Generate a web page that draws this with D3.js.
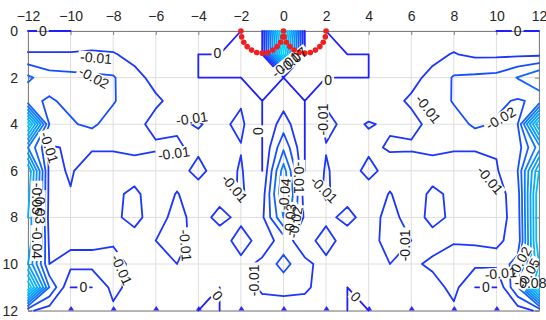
<!DOCTYPE html>
<html><head><meta charset="utf-8">
<script src="https://cdn.jsdelivr.net/npm/d3@7"></script>
<style>body{margin:0;background:#fff}svg{display:block}</style>
</head><body>
<script>
// ---------- data ----------
const xTicks = [-12,-10,-8,-6,-4,-2,0,2,4,6,8,10,12];
const yTicks = [0,2,4,6,8,10,12];
const xNodes = [-12,-11,-10,-9,-8,-7,-6,-5,-4,-3,-2,-1,0,1,2,3,4,5,6,7,8,9,10,11,12];
const yNodes = [0,1,2,3,4,5,6,7,8,9,10,11,12];
const levels = [0,-0.01,-0.02,-0.03,-0.04,-0.05,-0.06,-0.07,-0.08,-0.09,-0.10,-0.11];
// field values in thousandths (row = y node, column = x node)
const zMilli = [
 [0,0,0,-5,-5,-5,-5,-5,-5,-5,0,0,-110,0,0,-5,-5,-5,-5,-5,-5,-5,0,0,0],
 [-11,-11,-11,-11,-10.5,-8,-6,-5,0,0,0,0,-100,0,0,0,0,-5,-6,-8,-10.5,-8,-8,-8,-8],
 [-32,-24,-23,-22,-21,-12,-8,-5,0,0,0,0,0,0,0,0,0,-5,-8,-12,-21,-22,-23,-30.5,-40],
 [-22,-19,-22,-23,-21,-13,-11,-8,-6,-7,-9,0,-6,0,-9,-7,-6,-8,-11,-13,-21,-23,-22,-19,-22],
 [-95,-20,-19,-22,-15,-12,-8,-9,-10.5,-8,-12,0,-15,0,-12,-8,-10.5,-9,-8,-12,-15,-22,-19,-20,-90],
 [-40,-9,-11,-11,-11,-12,-11,-11,-8,-9,-9.5,0,-28,0,-9.5,-9,-8,-11,-11,-12,-11,-11,-11,-15,-45],
 [-80,-7,-11,-5,-5,-6,-5,-6,-13,-5,-11,0,-45,0,-11,-5,-13,-6,-5,-6,-5,-5,-9,-20,-80],
 [-75,-7,-9.5,-5,-8,-12,-5,-10.5,-5,-6,-11,-5,-50,-5,-11,-6,-5,-10.5,-5,-12,-8,-5,-6,-15,-90],
 [-70,-6,-5,-5,-8,-13,-5,-14,-5,-13.3,-7,-8,-40,-8,-7,-13.3,-5,-14,-5,-13,-8,-5,-6,-14,-90],
 [-70,-8,-8,-8,-9,-6,-10,-14,-6,-4,-15,-5,-14,-5,-15,-4,-6,-14,-10,-6,-9.5,-9.5,-9,-12,-90],
 [-60,-10,-13,-13,-13,-8,-8,-10,-6,-5,-7,-12,-24,-12,-7,-5,-6,-10,-8,-12,-13,-12,-12,-25,-80],
 [-100,-30,0,0,-13,-6,-5,-5,-5,0,-5,-12,-13,-12,-5,0,-5,-5,-5,-6,-13,0,0,-30,-100],
 [-12,-5,-5,-5,-8,-5,-5,-5,0,0,-5,-5,-5,-5,-5,0,0,-5,-5,-5,-8,-5,-5,-5,-12]
];
const labelText  = ["0","-0.01","-0.02","0","-0.01","-0.01","0","-0.01","-0.01","-0.01","-0.01","-0.01","0","0",
                    "0","-0.01","-0.01","-0.02","0","-0.01","-0.01","-0.01","-0.01","0","0",
                    "-0.04","-0.03","-0.01","-0.02","-0.01","-0.07","-0.03","-0.05","-0.04","-0.02","-0.05","-0.08"];
const labelX     = [-11.3,-8.8,-8.9,-3.1,-4.3,-5.15,-1.2,-11.0,-2.3,-7.6,-4.6,-1.4,-9.4,-3.1,
                    2.1,1.85,6.8,10.2,11.0,1.9,9.7,5.7,10.2,9.5,3.4,
                    0.05,0.3,0.75,0.55,0.1,0.45,-11.45,-11.6,-11.6,11.1,11.5,11.6];
const labelY     = [0.0,1.15,2.0,0.95,3.75,5.25,4.3,5.0,6.75,10.25,9.2,10.7,11.0,11.35,
                    2.1,3.8,3.35,3.75,0.0,6.8,6.4,9.2,10.4,11.0,11.4,
                    7.0,8.1,6.3,8.2,1.45,1.25,7.6,7.2,9.1,9.9,10.4,10.8];
const labelAngle = [0,5,28,0,-8,-8,90,72,50,65,85,-90,0,50,
                    0,-90,52,-30,0,45,50,-90,-5,0,45,
                    -85,-85,90,-80,-40,-40,90,90,90,-60,-60,0];
const dotX = [-2,-1.966,-1.866,-1.707,-1.5,-1.259,-1,-0.741,-0.5,-0.293,-0.134,-0.034,0,
              0.034,0.134,0.293,0.5,0.741,1,1.259,1.5,1.707,1.866,1.966,2];
const dotY = [0,0.25,0.48,0.67,0.82,0.92,0.95,0.92,0.82,0.67,0.48,0.25,0,
              0.25,0.48,0.67,0.82,0.92,0.95,0.92,0.82,0.67,0.48,0.25,0];

// ---------- layout ----------
const W = 546, H = 320;
const x = d3.scaleLinear().domain([-12,12]).range([28,539]);
const y = d3.scaleLinear().domain([0,12]).range([31,310.6]);
const color = d3.scaleLinear().domain([-0.11,-0.05,0]).range(["#00e8ff","#0a90ff","#2020ff"]);

const svg = d3.select("body").append("svg").attr("width",W).attr("height",H)
  .style("font-family","'Liberation Sans',Arial,Helvetica,sans-serif");

// grid
const g0 = svg.append("g");
g0.selectAll(".gx").data(xTicks).join("line").attr("x1",d=>x(d)).attr("x2",d=>x(d))
  .attr("y1",y(0)).attr("y2",y(12)).attr("stroke","#dedede").attr("stroke-width",1);
g0.selectAll(".gy").data(yTicks).join("line").attr("y1",d=>y(d)).attr("y2",d=>y(d))
  .attr("x1",x(-12)).attr("x2",x(12)).attr("stroke","#dedede").attr("stroke-width",1);

// axes (top x axis, left y axis, box)
const axCol = "#808080";
const xa = svg.append("g").attr("transform",`translate(0,${y(0)})`)
  .call(d3.axisTop(x).tickValues(xTicks).tickSize(-4).tickPadding(10).tickFormat(d3.format("d")));
const xb = svg.append("g").attr("transform",`translate(0,${y(12)})`)
  .call(d3.axisBottom(x).tickValues(xTicks).tickSize(0).tickFormat(""));
const ya = svg.append("g").attr("transform",`translate(${x(-12)},0)`)
  .call(d3.axisLeft(y).tickValues(yTicks).tickSize(-4).tickPadding(10).tickFormat(d3.format("d")));
const yb = svg.append("g").attr("transform",`translate(${x(12)},0)`)
  .call(d3.axisRight(y).tickValues(yTicks).tickSize(-4).tickFormat(""));
[xa,xb,ya,yb].forEach(a=>{
  a.select(".domain").attr("stroke",axCol);
  a.selectAll(".tick line").attr("stroke",axCol);
  a.selectAll(".tick text").attr("fill","#262626").style("font-size","14px")
   .style("font-family","'Liberation Sans',Arial,sans-serif");
});
// bottom inward tick marks (drawn as small blue wedges as in the source render)
xb.selectAll(".tick").filter(d=>d>-12&&d<12).append("path")
  .attr("d","M-3,0L0,-4.5L3,0Z").attr("fill","#2a2aff");

// ---------- marching squares ----------
const nx = xNodes.length, ny = yNodes.length;
const segsByLevel = levels.map(()=>[]);
levels.forEach((Lv, li) => {
  const L = Math.round(Lv*1000);
  for (let j=0;j<ny-1;j++) for (let i=0;i<nx-1;i++){
    const c = [[i,j],[i+1,j],[i+1,j+1],[i,j+1]];
    const v = c.map(([a,b])=>zMilli[b][a]);
    const ins = v.map(t=>t>=L);
    const pts = [];
    for (let e=0;e<4;e++){
      const a=e, b=(e+1)%4;
      if (ins[a]!==ins[b]){
        const t=(L-v[a])/(v[b]-v[a]);
        const xa_=xNodes[c[a][0]], ya_=yNodes[c[a][1]], xb_=xNodes[c[b][0]], yb_=yNodes[c[b][1]];
        pts[e]=[xa_+t*(xb_-xa_), ya_+t*(yb_-ya_)];
      }
    }
    const es=[0,1,2,3].filter(e=>pts[e]);
    const push=(p,q)=>{ if (Math.hypot(p[0]-q[0],p[1]-q[1])>1e-9) segsByLevel[li].push([p,q]); };
    if (es.length===2) push(pts[es[0]],pts[es[1]]);
    else if (es.length===4){
      const center=(v[0]+v[1]+v[2]+v[3])/4>=L;
      if (ins[0]) {
        if (center){push(pts[0],pts[1]);push(pts[2],pts[3]);} else {push(pts[0],pts[3]);push(pts[1],pts[2]);}
      } else {
        if (center){push(pts[0],pts[3]);push(pts[1],pts[2]);} else {push(pts[0],pts[1]);push(pts[2],pts[3]);}
      }
    }
  }
});

// ---------- labels + mask ----------
const defs = svg.append("defs");
const mask = defs.append("mask").attr("id","lblmask").attr("maskUnits","userSpaceOnUse")
  .attr("x",0).attr("y",0).attr("width",W).attr("height",H);
mask.append("rect").attr("width",W).attr("height",H).attr("fill","#fff");

const cg = svg.append("g").attr("mask","url(#lblmask)").attr("fill","none")
  .attr("stroke-width",1.8).attr("stroke-linecap","round").attr("stroke-linejoin","round");
segsByLevel.forEach((segs,li)=>{
  if (!segs.length) return;
  const d = segs.map(([p,q])=>`M${x(p[0]).toFixed(2)},${y(p[1]).toFixed(2)}L${x(q[0]).toFixed(2)},${y(q[1]).toFixed(2)}`).join("");
  cg.append("path").attr("d",d).attr("stroke",color(levels[li]));
});

// red markers
svg.append("g").selectAll("circle").data(dotX.map((d,i)=>[d,dotY[i]])).join("circle")
  .attr("cx",d=>x(d[0])).attr("cy",d=>y(d[1])).attr("r",2.8).attr("fill","#f01e1e");

const lg = svg.append("g").style("font-size","14px").attr("fill","#1a1a1a");
labelText.forEach((t,i)=>{
  const px=x(labelX[i]), py=y(labelY[i]);
  const tx = lg.append("text").attr("x",0).attr("y",0).attr("text-anchor","middle")
    .attr("dominant-baseline","central").attr("transform",`translate(${px},${py}) rotate(${labelAngle[i]})`).text(t);
  const w = tx.node().getComputedTextLength();
  mask.append("rect").attr("x",-w/2-2).attr("y",-6).attr("width",w+4).attr("height",12)
    .attr("transform",`translate(${px},${py}) rotate(${labelAngle[i]})`).attr("fill","#000");
});
</script>
</body></html>
